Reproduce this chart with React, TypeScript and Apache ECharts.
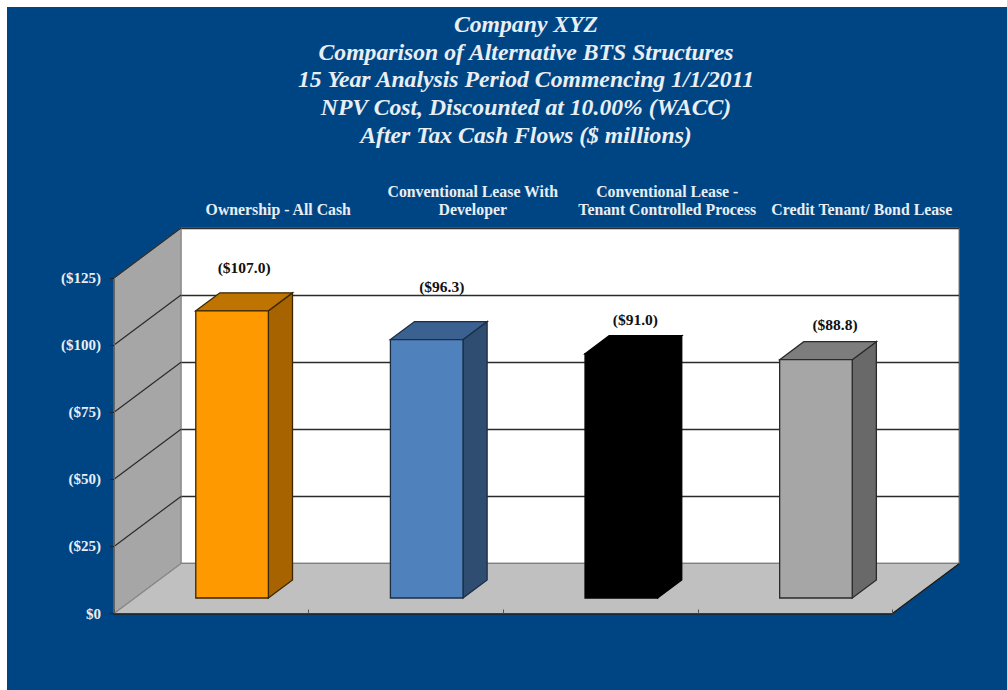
import React, { useEffect, useRef } from "react";
import * as echarts from "echarts";

const titleLines = [
  "Company XYZ",
  "Comparison of Alternative BTS Structures",
  "15 Year Analysis Period Commencing 1/1/2011",
  "NPV Cost, Discounted at 10.00% (WACC)",
  "After Tax Cash Flows ($ millions)",
];
const categories = [
  "Ownership - All Cash",
  "Conventional Lease With\nDeveloper",
  "Conventional Lease -\nTenant Controlled Process",
  "Credit Tenant/ Bond Lease",
];
const values = [107.0, 96.3, 91.0, 88.8];
const yTicks = [0, 25, 50, 75, 100, 125];
const frontColors = ["#ff9900", "#4f81bd", "#000000", "#a6a6a6"];
const topColors = ["#bf7300", "#3b6190", "#000000", "#7d7d7d"];
const sideColors = ["#a66300", "#2f4d71", "#000000", "#696969"];
const strokeColors = ["#3a2600", "#1c2e44", "#000000", "#2a2a2a"];
const labelShiftX = [0, 3, 2, 7];
const labelShiftY = [-25, -35, -16, -17];

const BLUE = "#004583";
const TEXT = "#e9eef4";
const DEPTH_X = 67;
const DEPTH_Y = 50;
const BAR_NEAR = 0.31;
const BAR_FAR = 0.67;
const BAR_WIDTH = 0.373;
const FONT = '"Liberation Serif", serif';

export default function App() {
  const ref = useRef<HTMLDivElement>(null);

  useEffect(() => {
    const chart = echarts.init(ref.current!, null, { renderer: "svg" });

    const renderWalls = (params: any) => {
      const { x, y, width: w, height: h } = params.coordSys;
      const edge = "#808080";
      return {
        type: "group",
        children: [
          {
            type: "polygon",
            shape: { points: [[x, y + h], [x, y], [x + DEPTH_X, y - DEPTH_Y], [x + DEPTH_X, y + h - DEPTH_Y]] },
            style: { fill: "#a6a6a6", stroke: edge, lineWidth: 1 },
          },
          {
            type: "polygon",
            shape: { points: [[x, y + h], [x + DEPTH_X, y + h - DEPTH_Y], [x + w + DEPTH_X, y + h - DEPTH_Y], [x + w, y + h]] },
            style: { fill: "#c0c0c0", stroke: edge, lineWidth: 1 },
          },
          {
            type: "line",
            shape: { x1: x + w, y1: y + h, x2: x + w + DEPTH_X, y2: y + h - DEPTH_Y },
            style: { stroke: "#1a1a1a", lineWidth: 1.5 },
          },
        ],
      };
    };

    const renderDiagonal = (params: any, api: any) => {
      const v = api.value(0);
      const x = params.coordSys.x;
      const y = api.coord([0, v])[1];
      return {
        type: "line",
        shape: { x1: x, y1: y, x2: x + DEPTH_X, y2: y - DEPTH_Y },
        style: { stroke: v === 0 ? "#8a8a8a" : "#2b2b2b", lineWidth: 1.2 },
      };
    };

    const renderBar = (params: any, api: any) => {
      const i = params.dataIndex;
      const base = api.coord([api.value(0), 0]);
      const top = api.coord([api.value(0), api.value(1)]);
      const w = api.size([1, 0])[0] * BAR_WIDTH;
      const l = base[0] + DEPTH_X * BAR_NEAR - w / 2;
      const r = l + w;
      const b = base[1] - DEPTH_Y * BAR_NEAR;
      const t = top[1] - DEPTH_Y * BAR_NEAR;
      const dx = DEPTH_X * (BAR_FAR - BAR_NEAR);
      const dy = DEPTH_Y * (BAR_FAR - BAR_NEAR);
      const stroke = strokeColors[i];
      const lineWidth = 1.3;
      return {
        type: "group",
        children: [
          {
            type: "polygon",
            shape: { points: [[r, b], [r, t], [r + dx, t - dy], [r + dx, b - dy]] },
            style: { fill: sideColors[i], stroke, lineWidth },
          },
          {
            type: "polygon",
            shape: { points: [[l, t], [l + dx, t - dy], [r + dx, t - dy], [r, t]] },
            style: { fill: topColors[i], stroke, lineWidth },
          },
          {
            type: "rect",
            shape: { x: l, y: t, width: w, height: b - t },
            style: { fill: frontColors[i], stroke, lineWidth },
          },
          {
            type: "text",
            x: l + w / 2 + dx / 2 + labelShiftX[i],
            y: t - dy + labelShiftY[i],
            style: {
              text: `($${api.value(1).toFixed(1)})`,
              fill: "#111111",
              font: `bold 15.5px ${FONT}`,
              align: "center",
              verticalAlign: "middle",
            },
          },
        ],
      };
    };

    chart.setOption({
      animation: false,
      backgroundColor: "transparent",
      title: {
        text: titleLines.join("\n"),
        left: 521,
        top: 5,
        textAlign: "center",
        textStyle: {
          color: TEXT,
          fontFamily: FONT,
          fontSize: 23.7,
          fontWeight: "bold",
          fontStyle: "italic",
          lineHeight: 27.7,
        },
      },
      grid: [
        { left: 114, top: 278, width: 778.5, height: 335.5, show: false },
        {
          left: 181,
          top: 228,
          width: 778,
          height: 335.5,
          show: true,
          backgroundColor: "#ffffff",
          borderColor: "#808080",
          borderWidth: 1,
        },
      ],
      xAxis: [
        {
          type: "category",
          gridIndex: 0,
          data: categories,
          z: 5,
          axisLine: { show: true, lineStyle: { color: "#222222", width: 1.5 } },
          axisTick: { show: true, inside: true, length: 4, alignWithLabel: false, lineStyle: { color: "#555555" } },
          axisLabel: { show: false },
        },
        {
          type: "category",
          gridIndex: 1,
          position: "top",
          data: categories,
          axisLine: { show: false },
          axisTick: { show: false },
          axisLabel: {
            show: true,
            interval: 0,
            margin: 10,
            color: TEXT,
            fontFamily: FONT,
            fontSize: 15.8,
            fontWeight: "bold",
            lineHeight: 18,
          },
        },
      ],
      yAxis: [
        {
          type: "value",
          gridIndex: 0,
          min: 0,
          max: 125,
          interval: 25,
          z: 5,
          axisLine: { show: true, lineStyle: { color: "#666666" } },
          axisTick: { show: true, length: 4, lineStyle: { color: "#222222" } },
          axisLabel: {
            margin: 13,
            color: TEXT,
            fontFamily: FONT,
            fontSize: 15,
            fontWeight: "bold",
            formatter: (v: number) => (v === 0 ? "$0" : `($${v})`),
          },
          splitLine: { show: false },
        },
        {
          type: "value",
          gridIndex: 1,
          min: 0,
          max: 125,
          interval: 25,
          axisLine: { show: false },
          axisTick: { show: false },
          axisLabel: { show: false },
          splitLine: { show: true, lineStyle: { color: "#2b2b2b", width: 1.3 } },
        },
      ],
      series: [
        {
          type: "custom",
          name: "Walls",
          xAxisIndex: 0,
          yAxisIndex: 0,
          z: 2,
          silent: true,
          data: [[0, 0]],
          renderItem: renderWalls,
        },
        {
          type: "custom",
          name: "Wall lines",
          xAxisIndex: 0,
          yAxisIndex: 0,
          z: 3,
          silent: true,
          encode: { y: 0 },
          data: yTicks.map((v) => [v]),
          renderItem: renderDiagonal,
        },
        {
          type: "custom",
          name: "Cost",
          xAxisIndex: 0,
          yAxisIndex: 0,
          z: 4,
          encode: { x: 0, y: 1 },
          data: values.map((v, i) => [i, v]),
          renderItem: renderBar,
        },
      ],
    });

    return () => chart.dispose();
  }, []);

  return (
    <div style={{ position: "fixed", left: 0, top: 0, width: 1007, height: 690, background: "#ffffff", overflow: "hidden" }}>
      <div style={{ position: "absolute", left: 7, top: 7, width: 1000, height: 683, background: BLUE }} />
      <div ref={ref} style={{ position: "absolute", left: 0, top: 0, width: 1007, height: 690 }} />
    </div>
  );
}
